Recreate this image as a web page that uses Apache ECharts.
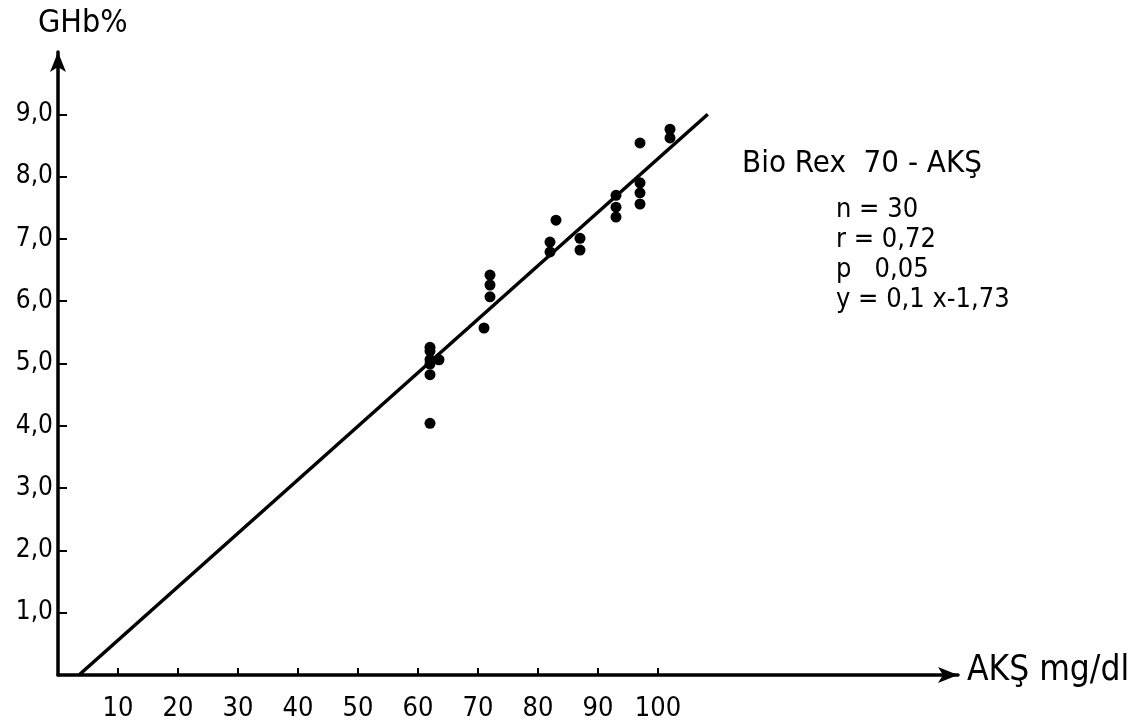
<!DOCTYPE html>
<html>
<head>
<meta charset="utf-8">
<script src="https://cdn.jsdelivr.net/npm/echarts@6/dist/echarts.min.js"></script>
<style>
  html, body { margin: 0; padding: 0; background: #fff; }
  #chart { width: 1147px; height: 728px; }
</style>
</head>
<body>
<div id="chart"></div>
<script>
// AKŞ (mg/dl) vs GHb (%)
let aksValues = [62, 62, 62, 62, 62, 62, 63.5, 71, 72, 72, 72, 82, 82, 83, 87, 87, 93, 93, 93, 97, 97, 97, 97, 102, 102];
let ghbValues = [5.26, 5.2, 5.06, 4.99, 4.82, 4.04, 5.06, 5.57, 6.07, 6.26, 6.42, 6.95, 6.79, 7.3, 7.01, 6.82, 7.7, 7.51, 7.35, 8.54, 7.9, 7.74, 7.56, 8.76, 8.62];
// regression line end points as drawn
let fitX = [3.5, 108.3];
let fitY = [0, 9.0];
let xTicks = [10, 20, 30, 40, 50, 60, 70, 80, 90, 100];
let yTicks = [1, 2, 3, 4, 5, 6, 7, 8, 9];
let statLines = ['n = 30', 'r = 0,72', 'p   0,05', 'y = 0,1 x-1,73'];

let font = "'DejaVu Sans Condensed', 'Liberation Sans Narrow', 'DejaVu Sans', sans-serif";
let ink = '#000';

let myChart = echarts.init(document.getElementById('chart'));

let option = {
    backgroundColor: '#fff',
    animation: false,
    grid: {
        left: 58,
        top: 52,
        width: 900,
        height: 623
    },
    xAxis: {
        type: 'value',
        min: 0,
        max: 150,
        splitLine: { show: false },
        axisLine: {
            lineStyle: { color: ink, width: 3.5 },
            symbol: ['none', 'arrow'],
            symbolSize: [12, 20]
        },
        axisTick: {
            inside: true,
            length: 7,
            customValues: xTicks,
            lineStyle: { color: ink, width: 2 }
        },
        axisLabel: {
            customValues: xTicks,
            color: ink,
            fontFamily: font,
            fontSize: 27,
            margin: 20
        }
    },
    yAxis: {
        type: 'value',
        min: 0,
        max: 10,
        splitLine: { show: false },
        axisLine: {
            lineStyle: { color: ink, width: 3.5 },
            symbol: ['none', 'arrow'],
            symbolSize: [12, 20]
        },
        axisTick: {
            inside: true,
            length: 9,
            customValues: yTicks,
            lineStyle: { color: ink, width: 2 }
        },
        axisLabel: {
            customValues: yTicks,
            color: ink,
            fontFamily: font,
            fontSize: 26,
            margin: 5,
            formatter: function (v) {
                return v.toFixed(1).replace('.', ',');
            }
        }
    },
    graphic: [
        {
            type: 'text', left: 38, top: 8,
            style: { text: 'GHb%', fill: ink, font: '32px ' + font }
        },
        {
            type: 'text', left: 967, top: 653,
            style: { text: 'AKŞ mg/dl', fill: ink, font: '35px ' + font }
        },
        {
            type: 'text', left: 742, top: 148,
            style: { text: 'Bio Rex  70 - AKŞ', fill: ink, font: '31px ' + font }
        },
        {
            type: 'text', left: 836, top: 195,
            style: {
                text: statLines.join('\n'),
                fill: ink,
                font: '27px ' + font,
                lineHeight: 30
            }
        }
    ],
    series: [
        {
            name: 'fit',
            type: 'line',
            data: fitX.map(function (x, i) { return [x, fitY[i]]; }),
            symbol: 'none',
            lineStyle: { color: ink, width: 3.5 },
            z: 2
        },
        {
            name: 'GHb',
            type: 'scatter',
            data: aksValues.map(function (x, i) { return [x, ghbValues[i]]; }),
            symbolSize: 11,
            itemStyle: { color: ink, opacity: 1 },
            z: 3
        }
    ]
};
myChart.setOption(option);
</script>
</body>
</html>
